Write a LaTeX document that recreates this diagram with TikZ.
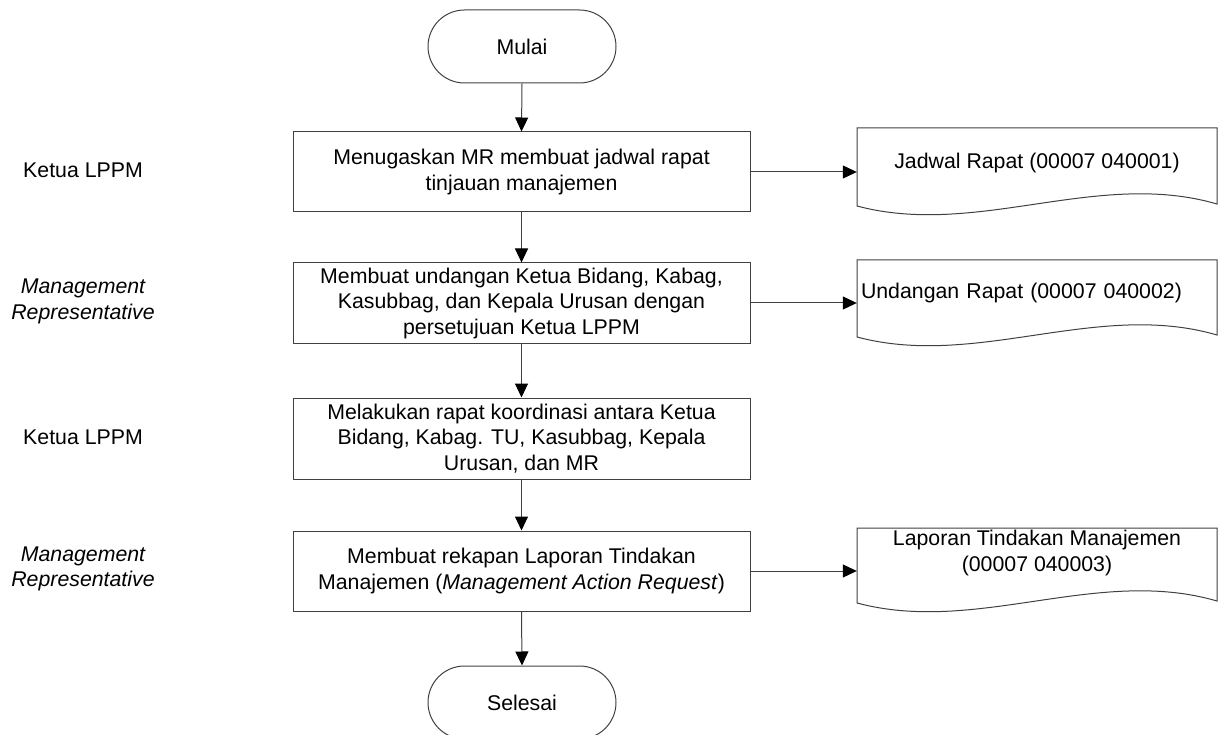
\documentclass[tikz,border=0pt]{standalone}
\usepackage{fontspec}
\setmainfont{Liberation Sans}
\usetikzlibrary{shapes.misc,arrows.meta,calc}
\newcommand{\docoutline}[3]{%
  \draw[line] (#1,#2+#3) -- (#1,#2) -- (#1+360,#2) -- (#1+360,#2+#3-2)
    .. controls (#1+240,#2+#3-37) and (#1+120,#2+#3+32) .. (#1,#2+#3) -- cycle;}
\begin{document}
\begin{tikzpicture}[x=1pt,y=-1pt,
  every node/.style={font=\fontsize{21.3}{25.5}\selectfont, inner sep=0pt},
  line/.style={draw=black!75, line width=1pt},
  arr/.style={line, -{Triangle[length=14pt,width=13pt,color=black]}},
  term/.style={line, rounded rectangle, minimum width=188pt, minimum height=73pt},
  proc/.style={line, rectangle, minimum width=457pt, align=center},
  doc/.style={minimum width=360pt, align=center},
  lane/.style={align=center}]
\useasboundingbox (0,0) rectangle (1218,735);

% lane labels
\node[lane] (l1) at (83,170) {Ketua LPPM};
\node[lane] (l2) at (83,301.5) {\itshape Management\\\itshape Representative};
\node[lane] (l3) at (83,437) {Ketua LPPM};
\node[lane] (l4) at (83,569) {\itshape Management\\\itshape Representative};

% terminators
\node[term] (m) at (522,46.5) {Mulai};
\node[term] (s) at (522,702.5) {Selesai};

% process boxes
\node[proc, minimum height=80pt] (b1) at (521.5,172) {Menugaskan MR membuat jadwal rapat\\tinjauan manajemen};
\node[proc, minimum height=80pt] (b2) at (521.5,303) {Membuat undangan Ketua Bidang, Kabag,\\Kasubbag, dan Kepala Urusan dengan\\persetujuan Ketua LPPM};
\node[proc, minimum height=81pt] (b3) at (521.5,438.5) {Melakukan rapat koordinasi antara Ketua\\Bidang, Kabag. TU, Kasubbag, Kepala\\Urusan, dan MR};
\node[proc, minimum height=80pt] (b4) at (521.5,571) {Membuat rekapan Laporan Tindakan\\Manajemen (\textit{Management Action Request})};

% documents
\docoutline{857}{128}{78}
\docoutline{857}{260}{77}
\docoutline{857}{528}{75}
\node[doc] (d1) at (1037,163) {Jadwal Rapat (00007 040001)};
\node[doc, text width=352pt, inner xsep=4pt, align=left] (d2) at (1037,293) {Undangan Rapat (00007 040002)};
\node[doc] (d3) at (1037,553) {Laporan Tindakan Manajemen\\(00007 040003)};

% connectors
\draw[arr] (m.south) -- (b1.north);
\draw[arr] (b1.south) -- (b2.north);
\draw[arr] (b2.south) -- (b3.north);
\draw[arr] (b3.south) -- (b4.north);
\draw[arr] (b4.south) -- (s.north);
\draw[arr] (b1.east) -- (b1.east -| d1.west);
\draw[arr] (b2.east) -- (b2.east -| d2.west);
\draw[arr] (b4.east) -- (b4.east -| d3.west);
\end{tikzpicture}
\end{document}
